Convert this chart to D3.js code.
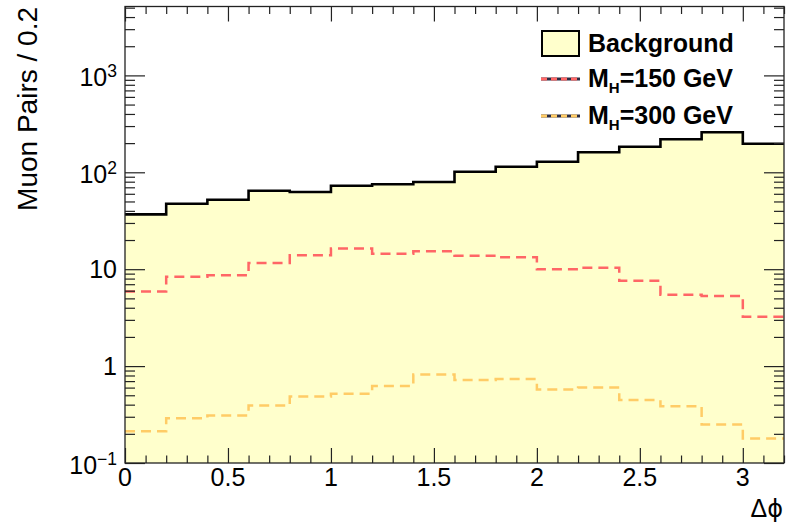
<!DOCTYPE html>
<html><head><meta charset="utf-8">
<script src="https://cdn.jsdelivr.net/npm/d3@7"></script>
<style>
body{margin:0;background:#fff}
text{font-family:"Liberation Sans",Arial,Helvetica,sans-serif;fill:#000}
</style>
</head><body>
<svg id="c" width="787" height="526"></svg>
<script>
// ---- data ----
const binEdges = [0,0.2,0.4,0.6,0.8,1.0,1.2,1.4,1.6,1.8,2.0,2.2,2.4,2.6,2.8,3.0,3.2];
const background = [36.8,47.4,52.1,64.6,62.6,72.7,75.2,79.4,101.4,114,128.6,161,183.8,219,259,197];
const mh150 = [5.9,8.36,8.64,11.6,13.9,16.4,14.4,15.3,13.8,13.3,9.97,10.35,7.6,5.45,5.28,3.23];
const mh300 = [0.213,0.29,0.31,0.393,0.486,0.518,0.622,0.82,0.717,0.734,0.574,0.603,0.446,0.386,0.25,0.179];
const xTicks = [0,0.5,1,1.5,2,2.5,3];
const xTickLabels = ["0","0.5","1","1.5","2","2.5","3"];
const yTicks = [0.1,1,10,100,1000];
const yTickBase = ["10","1","10","10","10"];
const yTickExp = ["\u22121","","","2","3"];
const legendLabels = ["Background","150","300"];

// ---- layout ----
const P = {left:125,right:784,top:6.5,bottom:463};
const svg = d3.select("#c");
const x = d3.scaleLinear().domain([0,3.2]).range([P.left,P.right]);
const y = d3.scaleLog().domain([0.1,5140]).range([P.bottom,P.top]);

const pts = v => v.map((d,i)=>[binEdges[i],d]).concat([[binEdges[v.length], v[v.length-1]]]);

svg.append("defs").append("clipPath").attr("id","clip")
  .append("rect").attr("x",P.left).attr("y",P.top).attr("width",P.right-P.left).attr("height",P.bottom-P.top);
const g = svg.append("g").attr("clip-path","url(#clip)");

const area = d3.area().x(d=>x(d[0])).y0(y(0.1)).y1(d=>y(d[1])).curve(d3.curveStepAfter);
const line = d3.line().x(d=>x(d[0])).y(d=>y(d[1])).curve(d3.curveStepAfter);

g.append("path").attr("d",area(pts(background))).attr("fill","#ffffcc");
g.append("path").attr("d",line(pts(mh150))).attr("fill","none")
  .attr("stroke","#ff6666").attr("stroke-width",2.5).attr("stroke-dasharray","10 6");
g.append("path").attr("d",line(pts(mh300))).attr("fill","none")
  .attr("stroke","#ffcc66").attr("stroke-width",2.5).attr("stroke-dasharray","10 6");
g.append("path").attr("d",line(pts(background))).attr("fill","none")
  .attr("stroke","#000").attr("stroke-width",2.6);

// ---- axes ticks ----
const minorY = [];
for (let e=-1;e<=3;e++) for (let k=2;k<=9;k++){const v=k*Math.pow(10,e); if(v<=5140) minorY.push(v);}
const minorX = d3.range(0,33).map(i=>i/10).filter(v=>!xTicks.some(t=>Math.abs(t-v)<1e-9));

function ax(gen, tr){
  const a = svg.append("g").attr("transform",tr).call(gen);
  a.select(".domain").remove();
  a.selectAll("text").remove();
  a.selectAll("line").attr("stroke","#222").attr("stroke-width",1.2);
  return a;
}
ax(d3.axisLeft(y).tickValues(yTicks).tickSizeInner(-20).tickSizeOuter(0),`translate(${P.left},0)`);
ax(d3.axisLeft(y).tickValues(minorY).tickSizeInner(-10).tickSizeOuter(0),`translate(${P.left},0)`);
ax(d3.axisRight(y).tickValues(yTicks).tickSizeInner(-20).tickSizeOuter(0),`translate(${P.right},0)`);
ax(d3.axisRight(y).tickValues(minorY).tickSizeInner(-10).tickSizeOuter(0),`translate(${P.right},0)`);
ax(d3.axisBottom(x).tickValues(xTicks).tickSizeInner(-15).tickSizeOuter(0),`translate(0,${P.bottom})`);
ax(d3.axisBottom(x).tickValues(minorX).tickSizeInner(-7.5).tickSizeOuter(0),`translate(0,${P.bottom})`);
ax(d3.axisTop(x).tickValues(xTicks).tickSizeInner(-15).tickSizeOuter(0),`translate(0,${P.top})`);
ax(d3.axisTop(x).tickValues(minorX).tickSizeInner(-7.5).tickSizeOuter(0),`translate(0,${P.top})`);

// frame
svg.append("rect").attr("x",P.left).attr("y",P.top).attr("width",P.right-P.left).attr("height",P.bottom-P.top)
  .attr("fill","none").attr("stroke","#222").attr("stroke-width",1.3);

// ---- tick labels ----
xTicks.forEach((t,i)=>{
  svg.append("text").attr("x",x(t)).attr("y",486).attr("text-anchor","middle")
    .attr("font-size",25).text(xTickLabels[i]);
});
yTicks.forEach((t,i)=>{
  const tx = svg.append("text").attr("x",117).attr("y",y(t)+ (yTickExp[i]?11:9))
    .attr("text-anchor","end").attr("font-size",25);
  tx.append("tspan").text(yTickBase[i]);
  if (yTickExp[i]) tx.append("tspan").attr("font-size",17.5).attr("dy",-9).text(yTickExp[i]);
});

// ---- titles ----
svg.append("text").attr("transform","translate(37,7) rotate(-90)").attr("text-anchor","end")
  .attr("font-size",28).text("Muon Pairs / 0.2");
const xt = svg.append("text").attr("x",783).attr("y",517).attr("text-anchor","end").attr("font-size",25);
xt.append("tspan").text("\u0394");
xt.append("tspan").attr("font-family","'DejaVu Sans'").attr("font-size",24).text("\u03d5");

// ---- legend ----
const L = svg.append("g");
L.append("rect").attr("x",542).attr("y",31).attr("width",37).attr("height",25)
  .attr("fill","#ffffcc").attr("stroke","#000").attr("stroke-width",2);
L.append("text").attr("x",588).attr("y",52).attr("font-size",25).attr("font-weight","bold").text(legendLabels[0]);
[[mh150,"#ff6666",79,legendLabels[1]],[mh300,"#ffcc66",116,legendLabels[2]]].forEach(([_,c,ly,lab])=>{
  L.append("line").attr("x1",541).attr("x2",580).attr("y1",ly).attr("y2",ly).attr("stroke","#2a2a40").attr("stroke-width",3);
  L.append("line").attr("x1",541).attr("x2",580).attr("y1",ly).attr("y2",ly).attr("stroke",c).attr("stroke-width",3).attr("stroke-dasharray","6 4");
  const t = L.append("text").attr("x",588).attr("y",ly+8).attr("font-size",25).attr("font-weight","bold");
  t.append("tspan").text("M");
  t.append("tspan").attr("font-size",15).attr("dy",6).text("H");
  t.append("tspan").attr("dy",-6).text("=" + lab + " GeV");
});
</script>
</body></html>
